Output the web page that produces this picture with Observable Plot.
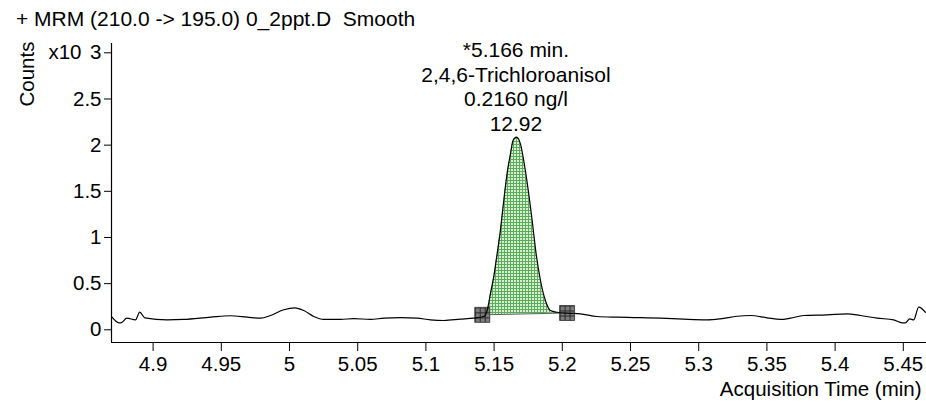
<!DOCTYPE html>
<html><head><meta charset="utf-8">
<script src="https://cdn.jsdelivr.net/npm/d3@7"></script>
<script src="https://cdn.jsdelivr.net/npm/@observablehq/plot@0.6"></script>
<style>
body{margin:0;background:#fff;font-family:"Liberation Sans",Arial,Helvetica,sans-serif;color:#000;}
#title{height:26px;padding-top:4px;padding-left:16px;font-size:21px;line-height:30px;white-space:pre;overflow:visible;}
#chart svg{display:block;}
</style></head><body>
<div id="title"></div>
<div id="chart"></div>
<script>
const titleText = "+ MRM (210.0 -> 195.0) 0_2ppt.D  Smooth";
const yLabel = "Counts";
const yMultiplier = "x10";
const xLabel = "Acquisition Time (min)";

const times = [4.8699,4.8749,4.8768,4.8807,4.8871,4.8902,4.8939,4.9103,4.9223,4.9421,4.9567,4.9690,4.9787,4.9861,4.9958,5.0039,5.0105,5.0178,5.0251,5.0374,5.0471,5.0593,5.0691,5.0813,5.0936,5.1033,5.1131,5.1253,5.1351,5.1424,5.1451,5.1473,5.1497,5.1522,5.1546,5.1571,5.1595,5.1620,5.1639,5.1664,5.1693,5.1717,5.1747,5.1779,5.1808,5.1840,5.1876,5.1913,5.1962,5.2035,5.2133,5.2255,5.2402,5.2524,5.2719,5.2890,5.3062,5.3159,5.3281,5.3379,5.3501,5.3599,5.3672,5.3770,5.3941,5.4088,5.4185,5.4308,5.4429,5.4491,5.4515,5.4547,5.4576,5.4613,5.4662];
const counts = [0.137,0.076,0.078,0.126,0.108,0.191,0.130,0.108,0.112,0.137,0.152,0.137,0.126,0.155,0.217,0.238,0.209,0.144,0.112,0.112,0.122,0.112,0.126,0.133,0.126,0.108,0.101,0.115,0.126,0.144,0.220,0.390,0.570,0.820,1.075,1.400,1.690,1.906,2.050,2.086,2.014,1.834,1.545,1.184,0.823,0.534,0.317,0.209,0.190,0.180,0.173,0.144,0.137,0.133,0.126,0.115,0.108,0.119,0.147,0.155,0.130,0.112,0.126,0.155,0.162,0.173,0.155,0.126,0.108,0.076,0.076,0.119,0.108,0.245,0.190];

const markerTimes = [5.1413, 5.2035];
const markerCounts = [0.162, 0.182];

const peakTime = 5.166;
const peakCount = 2.086;
const peakLabel = ["*5.166 min.", "2,4,6-Trichloroanisol", "0.2160 ng/l", "12.92"];

const xTicks = [4.9,4.95,5,5.05,5.1,5.15,5.2,5.25,5.3,5.35,5.4,5.45];
const yTicks = [0,0.5,1,1.5,2,2.5,3];
const xDomain = [4.8695, 5.467];
const yDomain = [-0.1375, 3.101];

document.getElementById("title").textContent = titleText;

const trace = times.map((t, i) => ({t, v: counts[i]}));
const markers = markerTimes.map((t, i) => ({t, v: markerCounts[i]}));
const baseAt = t => markerCounts[0] + (t - markerTimes[0]) / (markerTimes[1] - markerTimes[0]) * (markerCounts[1] - markerCounts[0]);
const fillPts = [{t: markerTimes[0], lo: markerCounts[0], hi: markerCounts[0]}]
  .concat(trace.filter(d => d.t > markerTimes[0] && d.t < markerTimes[1]).map(d => ({t: d.t, lo: baseAt(d.t), hi: Math.max(d.v, baseAt(d.t))})))
  .concat([{t: markerTimes[1], lo: markerCounts[1], hi: markerCounts[1]}]);

const chart = Plot.plot({
  width: 926, height: 373,
  marginLeft: 111, marginRight: 0, marginTop: 13, marginBottom: 61,
  style: {fontFamily: '"Liberation Sans", Arial, Helvetica, sans-serif', fontSize: "20.5px", background: "#fff", color: "#000"},
  x: {domain: xDomain},
  y: {domain: yDomain},
  marks: [
    Plot.areaY(fillPts, {x: "t", y1: "lo", y2: "hi", fill: "url(#greenGrid)", curve: "monotone-x"}),
    Plot.line(markers, {x: "t", y: "v", stroke: "#333", strokeWidth: 0.8}),
    Plot.dot(markers, {x: "t", y: "v", symbol: "square", r: 8.46, fill: "url(#grayGrid)", stroke: "#333", strokeWidth: 0.8}),
    Plot.line(trace, {x: "t", y: "v", stroke: "#000", strokeWidth: 1.2, curve: "monotone-x"}),
    Plot.ruleX([xDomain[0]], {stroke: "#000", strokeWidth: 1.2}),
    Plot.ruleY([yDomain[0]], {stroke: "#000", strokeWidth: 1.2}),
    Plot.axisX({ticks: xTicks, tickFormat: d => String(d), tickSize: 9, tickPadding: 5, label: null, fontSize: 20.5}),
    Plot.axisY({ticks: yTicks, tickFormat: d => String(d), tickSize: 7, tickPadding: 3, label: null, fontSize: 20.5}),
    Plot.text([{t: xDomain[0], v: 3}], {x: "t", y: "v", text: () => yMultiplier, textAnchor: "end", dx: -30, fontSize: 20.5}),
    Plot.text([yLabel], {frameAnchor: "top-left", rotate: -90, dx: -84.3, dy: 30.5, fontSize: 20.5, textAnchor: "middle", lineAnchor: "middle"}),
    Plot.text([xLabel], {frameAnchor: "bottom-right", dx: -5, dy: 53, fontSize: 20.5, lineAnchor: "bottom"}),
    Plot.text([{t: peakTime, v: peakCount}], {x: "t", y: "v", text: () => peakLabel.join("\n"), lineAnchor: "bottom", lineHeight: 1.162, dy: -6.7, fontSize: 21, textAnchor: "middle"})
  ]
});

const ns = "http://www.w3.org/2000/svg";
const defs = document.createElementNS(ns, "defs");
defs.innerHTML =
  '<pattern id="greenGrid" width="3" height="3" patternUnits="userSpaceOnUse">' +
  '<rect width="3" height="3" fill="#d8efd3"/>' +
  '<path d="M0 0.5H3M0.5 0V3" stroke="#5aab5a" stroke-width="1"/></pattern>' +
  '<pattern id="grayGrid" patternUnits="objectBoundingBox" width="0.33333" height="0.33333">' +
  '<rect width="5" height="5" fill="#7c7c7c"/>' +
  '<path d="M0 0.5H5M0.5 0V5" stroke="#2a2a2a" stroke-width="1"/></pattern>';
chart.insertBefore(defs, chart.firstChild);
document.getElementById("chart").appendChild(chart);
</script>
</body></html>
